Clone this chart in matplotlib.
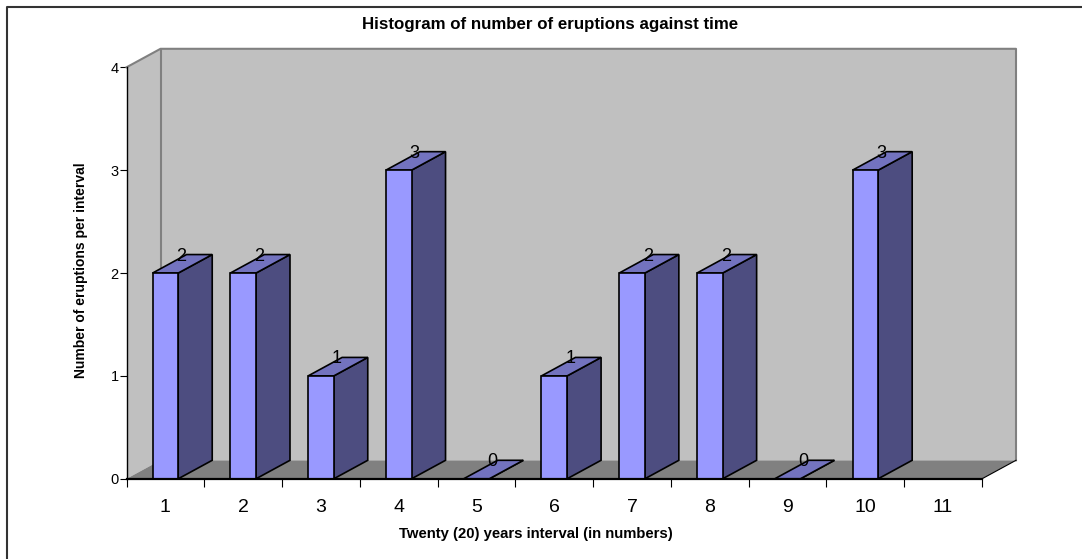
import matplotlib
matplotlib.use('Agg')
import matplotlib.pyplot as plt
from matplotlib.lines import Line2D
from matplotlib.patches import Polygon, Rectangle

# interval number on the x axis and eruptions counted in it
intervals = [1, 2, 3, 4, 5, 6, 7, 8, 9, 10]
eruptions = [2, 2, 1, 3, 0, 1, 2, 2, 0, 3]
x_labels = ['1', '2', '3', '4', '5', '6', '7', '8', '9', '10', '11']
y_ticks = [0, 1, 2, 3, 4]

WIDTH, HEIGHT = 1082, 559
LEFT, RIGHT = 126.5, 982.0   # front edge of the floor, pixels
BASE, TOP = 478.8, 67.3      # y=0 and y=4 on the left spine, pixels
DEPTH_PX, RISE_PX = 34.0, 18.5

WALL = '#c0c0c0'
FLOOR = '#808080'
EDGE = '#808080'
FRONT = '#9999ff'
SIDE = '#4d4d80'
CAP = '#7373bf'

plt.rcParams['font.family'] = ['Liberation Sans', 'DejaVu Sans']

fig = plt.figure(figsize=(WIDTH / 100, HEIGHT / 100), dpi=100)

# frame lines along the top and left of the chart
frame_x = [7 / WIDTH, 7 / WIDTH, 1]
frame_y = [0, 1 - 6.5 / HEIGHT, 1 - 6.5 / HEIGHT]
fig.add_artist(Line2D(frame_x, frame_y, transform=fig.transFigure, color='#333333', linewidth=1.5))

ax = fig.add_axes([LEFT / WIDTH, 1 - BASE / HEIGHT, (RIGHT + DEPTH_PX - LEFT) / WIDTH, (BASE - TOP + RISE_PX) / HEIGHT])
ax.patch.set_visible(False)

# one interval and one count in pixels, used to shear the 3D depth into data units
unit_x = (RIGHT - LEFT) / len(x_labels)
unit_y = (BASE - TOP) / y_ticks[-1]
dx = DEPTH_PX / unit_x
dy = RISE_PX / unit_y
x0, x1 = 0.5, len(x_labels) + 0.5
y1 = y_ticks[-1]
ax.set_xlim(x0, x1 + dx)
ax.set_ylim(0, y1 + dy)

# side wall, back wall, floor
ax.add_patch(Polygon([(x0, 0), (x0 + dx, dy), (x0 + dx, y1 + dy), (x0, y1)], facecolor=WALL, edgecolor='none', zorder=1))
ax.add_patch(Polygon([(x0 + dx, dy), (x1 + dx, dy), (x1 + dx, y1 + dy), (x0 + dx, y1 + dy)], facecolor=WALL, edgecolor='none', zorder=1))
ax.add_patch(Polygon([(x0, 0), (x1, 0), (x1 + dx, dy), (x0 + dx, dy)], facecolor=FLOOR, edgecolor='none', zorder=1))

# grey outlines of the walls
ax.plot([x0, x0 + dx, x1 + dx, x1 + dx], [y1, y1 + dy, y1 + dy, dy], color=EDGE, lw=1.5, zorder=2, clip_on=False)
ax.plot([x0 + dx, x0 + dx], [dy, y1 + dy], color=EDGE, lw=1.5, zorder=2)
ax.plot([x1, x1 + dx], [0, dy], color='black', lw=0.8, zorder=2, clip_on=False)

# bars as sheared boxes: side, cap, front
half = 0.165
for xc, v in zip(intervals, eruptions):
    l, r = xc - half, xc + half
    ax.add_patch(Polygon([(r, 0), (r + dx, dy), (r + dx, v + dy), (r, v)], facecolor=SIDE, edgecolor='black', lw=1.2, zorder=3, joinstyle='miter'))
    ax.add_patch(Polygon([(l, v), (r, v), (r + dx, v + dy), (l + dx, v + dy)], facecolor=CAP, edgecolor='black', lw=1.2, zorder=4, joinstyle='miter'))
    if v > 0:
        ax.add_patch(Rectangle((l, 0), r - l, v, facecolor=FRONT, edgecolor='black', lw=1.2, zorder=5))
    ax.text(xc + dx * 0.47, v + dy * 0.92, str(v), ha='center', va='center', fontsize=13, color='black', zorder=6)

for side in ['top', 'right']:
    ax.spines[side].set_visible(False)
ax.spines['left'].set_bounds(0, y1)
ax.spines['bottom'].set_bounds(x0, x1)
ax.spines['left'].set_linewidth(1.0)
ax.spines['bottom'].set_linewidth(1.6)
ax.spines['left'].set_zorder(7)
ax.spines['bottom'].set_zorder(7)

ax.set_yticks(y_ticks)
ax.tick_params(axis='y', length=5, width=0.8, pad=0.5, labelsize=10.5)
ax.set_xticks([i + 0.5 for i in range(len(x_labels) + 1)])
ax.set_xticklabels([])
ax.tick_params(axis='x', which='major', length=5.5, width=0.8)
ax.set_xticks(range(1, len(x_labels) + 1), labels=x_labels, minor=True)
ax.tick_params(axis='x', which='minor', length=0, pad=14.5, labelsize=14)

fig.text(550 / WIDTH, 1 - 25 / HEIGHT, 'Histogram of number of eruptions against time', ha='center', va='center', fontsize=12.2, fontweight='bold')
fig.text(536 / WIDTH, 1 - 534 / HEIGHT, 'Twenty (20) years interval (in numbers)', ha='center', va='center', fontsize=10.7, fontweight='bold')
fig.text(81 / WIDTH, 1 - 270.5 / HEIGHT, 'Number of eruptions per interval', ha='center', va='center', rotation=90, fontsize=10, fontweight='bold')

fig.savefig('out.png', dpi=100)
